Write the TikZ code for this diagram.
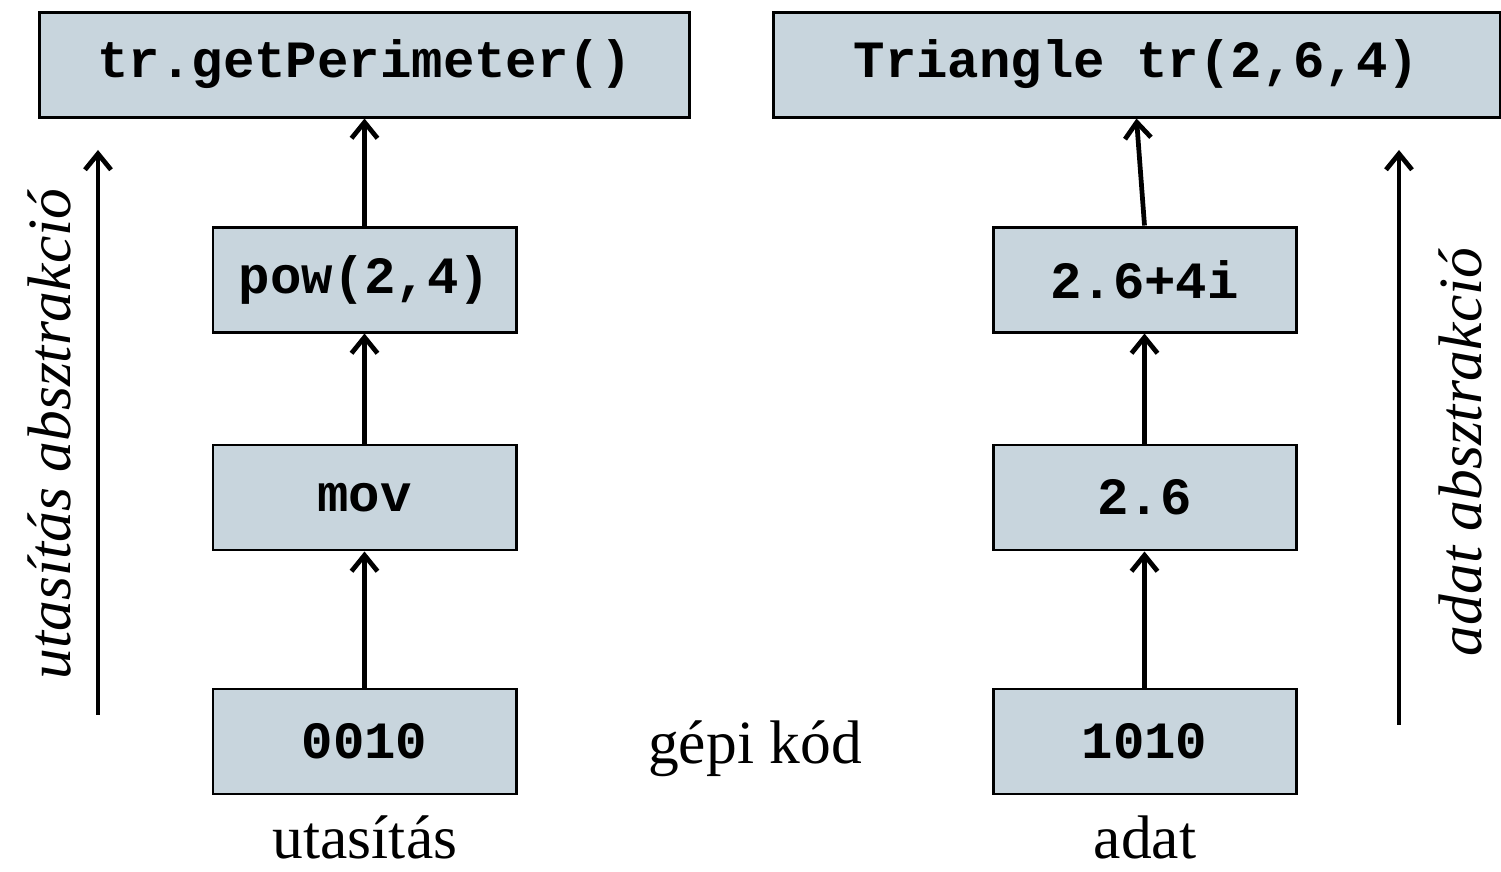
\documentclass[tikz,border=0pt]{standalone}
\usepackage{fontspec}
\setmainfont{Liberation Serif}
\setmonofont{Liberation Mono}
\usetikzlibrary{arrows.meta,positioning}

\definecolor{boxfill}{HTML}{C8D5DD}

\tikzset{
	codebox/.style={draw, line width=1.7pt, fill=boxfill, minimum height=2.1cm,
		inner sep=0pt, font=\fontsize{29.8}{32}\selectfont\ttfamily\bfseries},
	small/.style={codebox, minimum width=6.06cm},
	lbl/.style={inner sep=0pt, font=\fontsize{35}{40}\selectfont},
	up/.style={-{Straight Barb[length=0.32cm,width=0.52cm]}, line width=2.7pt}
}

\begin{document}
\begin{tikzpicture}
	\useasboundingbox (0,0) rectangle (30.02,17.44);

	% utasitas oldal
	\node[small] (I0) at (7.29,2.61) {0010};
	\node[small] (I1) [above=2.72cm of I0] {mov};
	\node[small] (I2) [above=2.2cm of I1] {pow(2,4)};
	\node[codebox, minimum width=13cm] (I3) [above=2.14cm of I2] {tr.getPerimeter()};

	% adat oldal
	\node[small] (D0) at (22.89,2.61) {1010};
	\node[small] (D1) [above=2.72cm of D0] {2.6};
	\node[small] (D2) [above=2.2cm of D1] {2.6+4i};
	\node[codebox, minimum width=14.54cm] (D3) [above=2.14cm of D2, xshift=-0.16cm] {Triangle tr(2,6,4)};

	\node[lbl] (gep) at (15.1,2.46) {gépi kód};
	\node[lbl] (ut) at (7.3,0.7) {utasítás};
	\node[lbl] (ad) at (22.9,0.7) {adat};

	\draw[up] (I0) -- (I1);
	\draw[up] (I1) -- (I2);
	\draw[up] (I2) -- (I3);
	\draw[up] (D0) -- (D1);
	\draw[up] (D1) -- (D2);
	\draw[up] (D2.north) -- (D3.south);

	% absztrakcio nyilak
	\coordinate (la) at (1.96,3.14);
	\coordinate (lb) at (1.96,14.44);
	\coordinate (ra) at (27.98,2.94);
	\coordinate (rb) at (27.98,14.44);
	\draw[up] (la) -- (lb);
	\draw[up] (ra) -- (rb);
	\node[lbl, rotate=90, font=\fontsize{35}{40}\selectfont\itshape] (labs) at (0.98,8.76) {utasítás absztrakció};
	\node[lbl, rotate=90, font=\fontsize{35}{40}\selectfont\itshape] (rabs) at (29.2,8.4) {adat absztrakció};
\end{tikzpicture}
\end{document}
